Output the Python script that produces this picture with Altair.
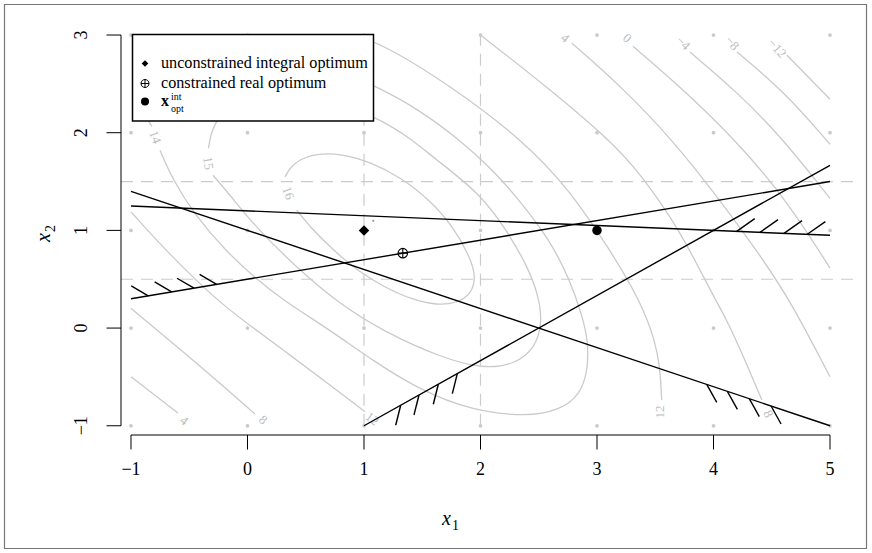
import altair as alt
import pandas as pd

# ---------------- layout (page pixels) ----------------
PX_L, PX_T = 121.0, 19.4
W, H = 737.0, 415.6
XD = [-1.0858, 5.2403]
YD = [-1.0946, 3.16]
FONT = "Liberation Serif"

# ---------------- data ----------------
grid_x1 = [-1, 0, 1, 2, 3, 4, 5]
grid_x2 = [-1, 0, 1, 2, 3]
tick_x = [-1, 0, 1, 2, 3, 4, 5]
tick_x_lab = ["\u22121", "0", "1", "2", "3", "4", "5"]
tick_y = [-1, 0, 1, 2, 3]
tick_y_lab = ["\u22121", "0", "1", "2", "3"]

dash_v_x = [1, 2]
dash_h_y = [0.5, 1.5]

con_x1a = [-1, -1, -1, 1]
con_x2a = [1.25, 1.4, 0.3, -1.0]
con_x1b = [5, 5, 5, 5]
con_x2b = [0.95, -1.0, 1.5, 1.6667]

hatch_bx1 = [-0.852, -0.651, -0.459, -0.265, 4.199, 4.399, 4.605, 4.805,
             3.942, 4.119, 4.307, 4.494, 1.315, 1.472, 1.638, 1.801]
hatch_bx2 = [0.330, 0.370, 0.408, 0.447, 0.990, 0.980, 0.970, 0.960,
             -0.577, -0.648, -0.723, -0.798, -0.790, -0.685, -0.575, -0.466]
hatch_tx1 = [-0.998, -0.797, -0.605, -0.411, 4.354, 4.554, 4.760, 4.960,
             4.028, 4.205, 4.393, 4.580, 1.272, 1.429, 1.595, 1.758]
hatch_tx2 = [0.432, 0.472, 0.510, 0.549, 1.120, 1.110, 1.100, 1.090,
             -0.761, -0.832, -0.907, -0.982, -0.995, -0.890, -0.780, -0.671]

# contour pieces (x1, x2)
c16_x1 = [0.322, 0.393, 0.594, 0.822, 1.052, 1.309, 1.567, 1.767, 1.910, 1.961,
          1.924, 1.796, 1.624, 1.423, 1.166, 0.937, 0.736, 0.536, 0.422]
c16_x2 = [1.548, 1.701, 1.793, 1.780, 1.701, 1.548, 1.309, 1.036, 0.729, 0.525,
          0.355, 0.253, 0.235, 0.286, 0.423, 0.593, 0.798, 1.036, 1.207]
c15a_x1 = [-0.10, -0.30, -0.335]
c15a_x2 = [2.33, 2.10, 1.84]
c15b_x1 = [-0.296, -0.150, 0.055, 0.415, 0.777, 1.189, 1.652, 2.021, 2.300, 2.470,
           2.530, 2.500, 2.400, 2.230, 1.996, 1.592, 1.421, 1.100, 0.600]
c15b_x2 = [1.565, 1.362, 1.054, 0.626, 0.257, -0.049, -0.296, -0.420, -0.370, -0.200,
           0.050, 0.330, 0.640, 0.990, 1.381, 1.749, 1.923, 2.170, 2.380]
c14a_x1 = [-0.923, -0.854, -0.820]
c14a_x2 = [2.332, 2.118, 2.066]
c14b_x1 = [-0.751, -0.640, -0.451, -0.193, 0.064, 0.305, 0.708, 1.094, 1.481, 1.910,
           2.399, 2.682, 2.854, 2.923, 2.923, 2.871, 2.768, 2.597, 2.313, 2.082,
           1.824, 1.481, 1.137, 0.794]
c14b_x2 = [1.821, 1.514, 1.156, 0.798, 0.512, 0.286, -0.020, -0.348, -0.634, -0.839,
           -0.910, -0.839, -0.685, -0.430, -0.123, 0.133, 0.491, 0.900, 1.340, 1.647,
           1.923, 2.230, 2.455, 2.639]
c12a_x1 = [-1.0, -0.665, -0.264, 0.004, 0.365, 0.708, 1.009]
c12a_x2 = [1.190, 0.747, 0.286, 0.041, -0.276, -0.583, -0.856]
c12b_x1 = [0.88, 1.137, 1.738, 2.365, 2.768, 3.112, 3.369, 3.498, 3.541, 3.555]
c12b_x2 = [3.0, 2.926, 2.486, 1.923, 1.412, 0.798, 0.286, -0.123, -0.399, -0.737]
c8a_x1 = [-1.0, -0.622, -0.236, 0.064]
c8a_x2 = [0.202, -0.174, -0.563, -0.880]
c8b_x1 = [2.0, 2.554, 3.112, 3.369, 3.712, 3.970, 4.116, 4.270, 4.416]
c8b_x2 = [3.0, 2.486, 1.923, 1.586, 1.003, 0.389, 0.082, -0.327, -0.737]
c4a_x1 = [-1.0, -0.597]
c4a_x2 = [-0.498, -0.870]
c4b_x1 = [2.785, 3.197, 3.652, 4.056, 4.399, 4.657, 5.0]
c4b_x2 = [2.916, 2.486, 1.923, 1.309, 0.747, 0.286, -0.498]
c0_x1 = [3.309, 3.798, 4.270, 4.657, 5.0]
c0_x2 = [2.885, 2.384, 1.821, 1.258, 0.614]
cm4_x1 = [3.798, 4.185, 4.571, 5.0]
cm4_x2 = [2.826, 2.435, 1.974, 1.327]
cm8_x1 = [4.202, 4.614, 5.0]
cm8_x2 = [2.826, 2.414, 1.882]
cm12_x1 = [4.631, 5.0]
cm12_x2 = [2.793, 2.343]

lab_text = ["16", "15", "14", "12", "12", "8", "8", "4", "4", "0", "\u22124", "\u22128", "\u221212"]
lab_x1 = [0.348, -0.339, -0.794, 1.069, 3.541, 0.133, 4.468, -0.545, 2.725, 3.258, 3.738, 4.159, 4.545]
lab_x2 = [1.381, 1.688, 1.954, -0.931, -0.859, -0.941, -0.880, -0.951, 2.967, 2.967, 2.916, 2.916, 2.864]
lab_ang = [70, 80, 70, 37, 270, 40, 65, 38, 40, 40, 45, 48, 48]

uio_x1, uio_x2 = [1], [1]
cro_x1, cro_x2 = [1.333], [0.767]
xint_x1, xint_x2 = [3], [1]
real_x1, real_x2 = [1.08], [1.098]

# ---------------- helpers ----------------
xs = alt.Scale(domain=XD, nice=False, zero=False)
ys = alt.Scale(domain=YD, nice=False, zero=False)


def X(f, **kw):
    return alt.X(f, type="quantitative", scale=xs, axis=None, **kw)


def Y(f, **kw):
    return alt.Y(f, type="quantitative", scale=ys, axis=None, **kw)


def vx(px):
    return px - PX_L


def vy(py):
    return py - PX_T


GRAY = "#cacaca"
one = pd.DataFrame({"k": [0]})

# grid dots
gdf = pd.DataFrame([(a, b) for a in grid_x1 for b in grid_x2], columns=["x1", "x2"])
grid = alt.Chart(gdf).mark_circle(size=14, color=GRAY, opacity=1).encode(x=X("x1"), y=Y("x2"))

# axes drawn by hand (R style detached axes)
axx = alt.Chart(pd.DataFrame({"a": [tick_x[0]], "b": [tick_x[-1]]})).mark_rule(color="black", strokeWidth=1).encode(
    x=X("a"), x2="b", y=alt.value(H))
axy = alt.Chart(pd.DataFrame({"a": [tick_y[0]], "b": [tick_y[-1]]})).mark_rule(color="black", strokeWidth=1).encode(
    y=Y("a"), y2="b", x=alt.value(0))
xt = pd.DataFrame({"v": tick_x, "t": tick_x_lab})
yt = pd.DataFrame({"v": tick_y, "t": tick_y_lab})
xticks = alt.Chart(xt).mark_rule(color="black", strokeWidth=1).encode(
    x=X("v"), y=alt.value(H), y2=alt.value(H + 14.5))
xlabs = alt.Chart(xt).mark_text(font=FONT, fontSize=18, color="black", baseline="alphabetic").encode(
    x=X("v"), y=alt.value(H + 39.5), text="t:N")
yticks = alt.Chart(yt).mark_rule(color="black", strokeWidth=1).encode(
    y=Y("v"), x=alt.value(0), x2=alt.value(-14.5))
ylabs = alt.Chart(yt).mark_text(font=FONT, fontSize=18, color="black", baseline="alphabetic", angle=270).encode(
    y=Y("v"), x=alt.value(vx(87)), text="t:N")

# dashed lines
dv = alt.Chart(pd.DataFrame({"x": dash_v_x, "a": -1, "b": 3})).mark_rule(
    color="#cccccc", strokeDash=[12, 8], strokeWidth=1.2).encode(x=X("x"), y=Y("a"), y2="b")
dh = alt.Chart(pd.DataFrame({"y": dash_h_y, "a": -1.0858, "b": 5.24})).mark_rule(
    color="#cccccc", strokeDash=[12, 8], strokeWidth=1.2).encode(y=Y("y"), x=X("a"), x2="b")

# contours
pieces = {
    "16": (c16_x1, c16_x2), "15a": (c15a_x1, c15a_x2), "15b": (c15b_x1, c15b_x2),
    "14a": (c14a_x1, c14a_x2), "14b": (c14b_x1, c14b_x2),
    "12a": (c12a_x1, c12a_x2), "12b": (c12b_x1, c12b_x2),
    "8a": (c8a_x1, c8a_x2), "8b": (c8b_x1, c8b_x2),
    "4a": (c4a_x1, c4a_x2), "4b": (c4b_x1, c4b_x2),
    "0": (c0_x1, c0_x2), "m4": (cm4_x1, cm4_x2), "m8": (cm8_x1, cm8_x2), "m12": (cm12_x1, cm12_x2),
}
rows = []
for seg, (xx, yy) in pieces.items():
    for i, (a, b) in enumerate(zip(xx, yy)):
        rows.append({"seg": seg, "o": i, "x1": a, "x2": b})
cdf = pd.DataFrame(rows)
cont = alt.Chart(cdf).mark_line(color=GRAY, strokeWidth=1.3, interpolate="basis").encode(
    x=X("x1"), y=Y("x2"), detail="seg:N", order="o:Q")

ldf = pd.DataFrame({"t": lab_text, "x1": lab_x1, "x2": lab_x2, "ang": lab_ang})
clab = alt.Chart(ldf).mark_text(font=FONT, fontSize=13, color="#bdbdbd").encode(
    x=X("x1"), y=Y("x2"), text="t:N", angle=alt.Angle("ang:Q", scale=None))

# constraints
cdf2 = pd.DataFrame({"a": con_x1a, "b": con_x2a, "c": con_x1b, "d": con_x2b})
cons = alt.Chart(cdf2).mark_rule(color="black", strokeWidth=1.4).encode(
    x=X("a"), y=Y("b"), x2="c", y2="d")
hdf = pd.DataFrame({"a": hatch_bx1, "b": hatch_bx2, "c": hatch_tx1, "d": hatch_tx2})
hatch = alt.Chart(hdf).mark_rule(color="black", strokeWidth=1.4).encode(
    x=X("a"), y=Y("b"), x2="c", y2="d")

# points
p_uio = alt.Chart(pd.DataFrame({"x1": uio_x1, "x2": uio_x2})).mark_point(
    shape="diamond", filled=True, color="black", size=110, opacity=1).encode(x=X("x1"), y=Y("x2"))
CROSS = "M-1,0A1,1,0,1,1,1,0A1,1,0,1,1,-1,0ZM-1,0L1,0M0,-1L0,1"
p_cro = alt.Chart(pd.DataFrame({"x1": cro_x1, "x2": cro_x2})).mark_point(
    shape=CROSS, filled=False, color="black", size=90, strokeWidth=1.1, opacity=1).encode(x=X("x1"), y=Y("x2"))
p_int = alt.Chart(pd.DataFrame({"x1": xint_x1, "x2": xint_x2})).mark_circle(
    color="black", size=90, opacity=1).encode(x=X("x1"), y=Y("x2"))
p_real = alt.Chart(pd.DataFrame({"x1": real_x1, "x2": real_x2})).mark_circle(
    color="#999999", size=5, opacity=1).encode(x=X("x1"), y=Y("x2"))

# legend (decoration, pixel placed)
leg_box = alt.Chart(one).mark_rect(fill="white", stroke="black", strokeWidth=1.5).encode(
    x=alt.value(vx(132.5)), x2=alt.value(vx(373.5)), y=alt.value(vy(34.5)), y2=alt.value(vy(121)))
leg_s1 = alt.Chart(one).mark_point(shape="diamond", filled=True, color="black", size=45, opacity=1).encode(
    x=alt.value(vx(145)), y=alt.value(vy(63.5)))
leg_s2 = alt.Chart(one).mark_point(shape=CROSS, filled=False, color="black", size=64, strokeWidth=1, opacity=1).encode(
    x=alt.value(vx(145)), y=alt.value(vy(83.5)))
leg_s3 = alt.Chart(one).mark_circle(color="black", size=64, opacity=1).encode(
    x=alt.value(vx(145)), y=alt.value(vy(101.5)))
leg_texts = pd.DataFrame({
    "t": ["unconstrained integral optimum", "constrained real optimum"],
    "y": [vy(68), vy(87.5)]})
leg_t = alt.Chart(leg_texts).mark_text(font=FONT, fontSize=16.2, align="left", baseline="alphabetic", color="black").encode(
    x=alt.value(vx(161)), y=alt.Y("y:Q", scale=None), text="t:N")
leg_x = alt.Chart(one).mark_text(text="x", font=FONT, fontSize=16, fontWeight="bold", align="left",
                                 baseline="alphabetic", color="black").encode(x=alt.value(vx(161)), y=alt.value(vy(106)))
leg_sup = alt.Chart(one).mark_text(text="int", font=FONT, fontSize=10, align="left",
                                   baseline="alphabetic", color="black").encode(x=alt.value(vx(171)), y=alt.value(vy(99.5)))
leg_sub = alt.Chart(one).mark_text(text="opt", font=FONT, fontSize=10, align="left",
                                   baseline="alphabetic", color="black").encode(x=alt.value(vx(171)), y=alt.value(vy(111.5)))

# axis titles
tx = alt.Chart(one).mark_text(text="x", font=FONT, fontSize=20, fontStyle="italic", align="left",
                              baseline="alphabetic", color="black").encode(x=alt.value(vx(442)), y=alt.value(vy(525)))
tx1 = alt.Chart(one).mark_text(text="1", font=FONT, fontSize=14, align="left",
                               baseline="alphabetic", color="black").encode(x=alt.value(vx(452)), y=alt.value(vy(530)))
ty = alt.Chart(one).mark_text(text="x", font=FONT, fontSize=20, fontStyle="italic", align="left", angle=270,
                              baseline="alphabetic", color="black").encode(x=alt.value(vx(50)), y=alt.value(vy(242)))
ty2 = alt.Chart(one).mark_text(text="2", font=FONT, fontSize=14, align="left", angle=270,
                               baseline="alphabetic", color="black").encode(x=alt.value(vx(55)), y=alt.value(vy(232)))

frame = alt.Chart(one).mark_rect(fill=None, stroke="#777777", strokeWidth=1.2).encode(
    x=alt.value(vx(4.5)), x2=alt.value(vx(866.5)), y=alt.value(vy(4.5)), y2=alt.value(vy(548.5)))

chart = alt.layer(
    frame, grid, dv, dh, cont, clab, axx, axy, xticks, xlabs, yticks, ylabs, cons, hatch,
    p_uio, p_cro, p_int, p_real,
    leg_box, leg_s1, leg_s2, leg_s3, leg_t, leg_x, leg_sup, leg_sub,
    tx, tx1, ty, ty2,
).properties(
    width=W, height=H,
    autosize=alt.AutoSizeParams(type="none"),
    padding={"left": PX_L, "top": PX_T, "right": 872 - PX_L - W, "bottom": 553 - PX_T - H},
    background="white",
).configure_view(stroke=None)

chart.save("out.html", embed_options={"renderer": "svg", "actions": False})
